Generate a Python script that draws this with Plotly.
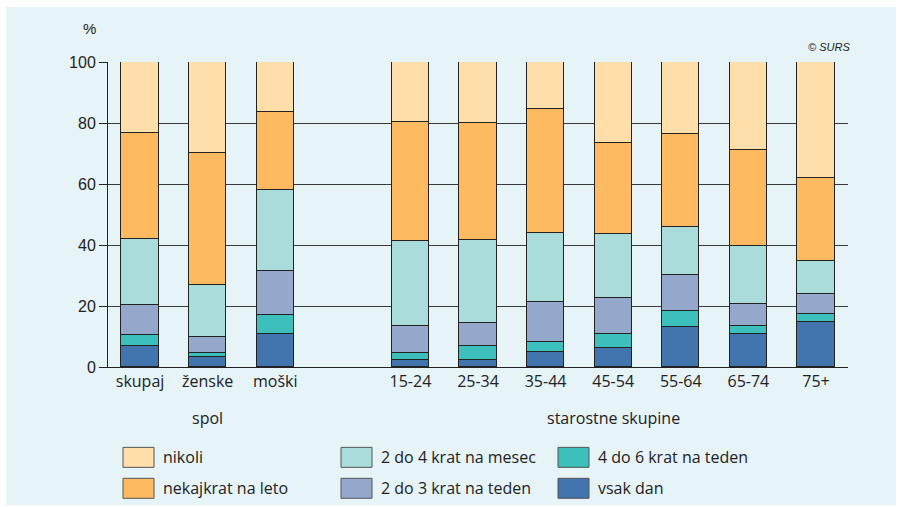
import plotly.graph_objects as go

categories = ["skupaj", "ženske", "moški", "15-24", "25-34", "35-44", "45-54", "55-64", "65-74", "75+"]
x_positions = [0, 1, 2, 4, 5, 6, 7, 8, 9, 10]

series_names = ["vsak dan", "4 do 6 krat na teden", "2 do 3 krat na teden",
                "2 do 4 krat na mesec", "nekajkrat na leto", "nikoli"]
vsak_dan = [6.8, 3.3, 10.8, 2.2, 2.3, 5.0, 6.1, 13.2, 10.9, 14.8]
krat_4_6_teden = [3.7, 1.3, 6.3, 2.4, 4.7, 3.3, 4.6, 5.1, 2.4, 2.6]
krat_2_3_teden = [9.9, 5.4, 14.3, 8.7, 7.3, 13.1, 11.8, 11.8, 7.2, 6.7]
krat_2_4_mesec = [21.7, 17.0, 26.5, 28.0, 27.4, 22.6, 21.1, 15.9, 19.2, 10.5]
nekajkrat_leto = [34.5, 43.1, 25.7, 39.1, 38.4, 40.6, 29.8, 30.4, 31.5, 27.4]
nikoli = [23.4, 29.9, 16.4, 19.6, 19.9, 15.4, 26.6, 23.6, 28.8, 38.0]
series_values = [vsak_dan, krat_4_6_teden, krat_2_3_teden, krat_2_4_mesec, nekajkrat_leto, nikoli]
colors = ["#4274AE", "#3DBFBC", "#94A8CB", "#A9DCDB", "#FDBA60", "#FEDFAA"]

y_ticks = [0, 20, 40, 60, 80, 100]
group_labels = ["spol", "starostne skupine"]

W, H = 902, 507
ml, mr, mt, mb = 108, 54, 62, 139.5

fig = go.Figure()
for name, vals, col in zip(series_names, series_values, colors):
    fig.add_trace(go.Bar(
        x=x_positions, y=vals, name=name, width=0.55,
        marker=dict(color=col, line=dict(color="#222222", width=1)),
        showlegend=False,
    ))

pw = W - ml - mr
ph = H - mt - mb
def px(x):
    return (x - ml) / pw
def py(y):
    return (H - mb - y) / ph

# background panel
fig.add_shape(type="rect", xref="paper", yref="paper",
              x0=px(6), x1=px(896), y0=py(506), y1=py(7),
              fillcolor="#e6f3f7", line=dict(width=0), layer="below")

# legend (manual)
legend_layout = [
    ("nikoli", colors[5], 123, 458),
    ("nekajkrat na leto", colors[4], 123, 489),
    ("2 do 4 krat na mesec", colors[3], 341, 458),
    ("2 do 3 krat na teden", colors[2], 341, 489),
    ("4 do 6 krat na teden", colors[1], 558, 458),
    ("vsak dan", colors[0], 558, 489),
]
for label, col, lx, ly in legend_layout:
    fig.add_shape(type="rect", xref="paper", yref="paper",
                  x0=px(lx), x1=px(lx + 31), y0=py(ly + 10), y1=py(ly - 10),
                  fillcolor=col, line=dict(color="#555555", width=1))
    fig.add_annotation(xref="paper", yref="paper", x=px(lx + 38), y=py(ly),
                       text=label, showarrow=False, xanchor="left", yanchor="middle",
                       font=dict(family="Open Sans", size=16, color="#222222"))

# group labels
fig.add_annotation(xref="x", yref="paper", x=1, y=py(419), text=group_labels[0],
                   showarrow=False, yanchor="middle",
                   font=dict(family="Open Sans", size=16, color="#222222"))
fig.add_annotation(xref="x", yref="paper", x=7, y=py(419), text=group_labels[1],
                   showarrow=False, yanchor="middle",
                   font=dict(family="Open Sans", size=16, color="#222222"))
# % label
fig.add_annotation(xref="paper", yref="paper", x=px(81), y=py(28), text="%",
                   showarrow=False, yanchor="middle",
                   font=dict(family="Liberation Sans", size=15, color="#222222"))
# copyright
fig.add_annotation(xref="paper", yref="paper", x=px(852), y=py(47), text="<i>© SURS</i>",
                   showarrow=False, xanchor="right", yanchor="middle",
                   font=dict(family="Liberation Sans", size=11, color="#222222"))

fig.update_layout(
    width=W, height=H,
    margin=dict(l=ml, r=mr, t=mt, b=mb, pad=0),
    paper_bgcolor="white", plot_bgcolor="rgba(0,0,0,0)",
    barmode="stack", bargap=0,
    showlegend=False,
    xaxis=dict(range=[-0.474, 10.474], tickvals=x_positions, ticktext=categories,
               showgrid=False, zeroline=False, showline=True, linecolor="#222222", linewidth=1,
               ticks="", tickfont=dict(family="Open Sans", size=16, color="#222222")),
    yaxis=dict(range=[0, 100], tickvals=y_ticks, showgrid=True, gridcolor="#3a3a3a", gridwidth=1,
               zeroline=False, showline=True, linecolor="#222222", linewidth=1,
               ticks="outside", ticklen=8, tickcolor="#222222",
               tickfont=dict(family="Liberation Sans", size=16, color="#222222")),
)

fig.write_html("out.html", config={"displayModeBar": False},
               post_script="document.body.style.margin='0';document.body.style.padding='0';")
